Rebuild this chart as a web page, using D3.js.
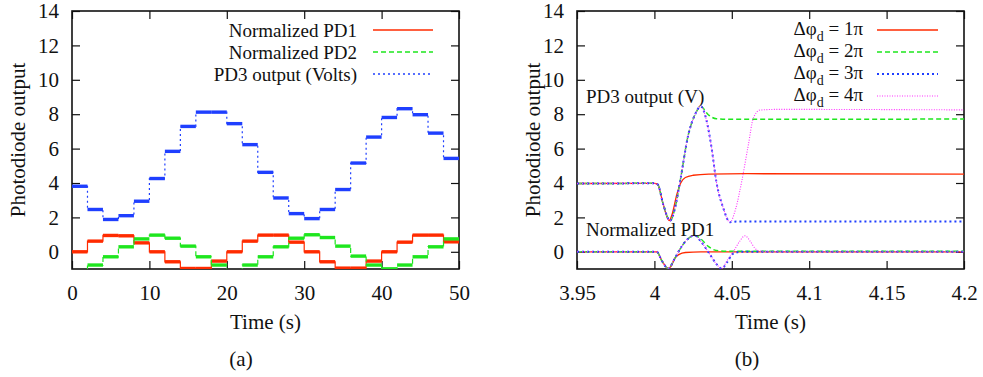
<!DOCTYPE html>
<html>
<head>
<meta charset="utf-8">
<script src="https://cdn.jsdelivr.net/npm/d3@7"></script>
<style>
  body { margin: 0; background: #fff; }
  svg text { font-family: "Liberation Serif", Tinos, "Times New Roman", Times, "Nimbus Roman", "DejaVu Serif", serif !important; fill: #111; }
</style>
</head>
<body>
<svg id="chart"></svg>
<script>
// --- Data: panel (a), step levels every 2 s ---
const stepTimes = [0, 2, 4, 6, 8, 10, 12, 14, 16, 18, 20, 22, 24, 26, 28, 30, 32, 34, 36, 38, 40, 42, 44, 46, 48, 50];
const pd1Levels = [0, 0.62, 0.95, 0.93, 0.52, 0, -0.58, -0.97, -0.97, -0.54, 0, 0.62, 0.97, 0.97, 0.56, 0, -0.58, -0.95, -0.95, -0.54, 0, 0.56, 0.97, 0.97, 0.58];
const pd2Levels = [-1.12, -0.77, -0.29, 0.29, 0.75, 0.97, 0.79, 0.33, -0.29, -0.77, -1.12, -0.77, -0.29, 0.29, 0.79, 0.99, 0.83, 0.33, -0.25, -0.77, -0.99, -0.77, -0.29, 0.29, 0.75];
const pd3Levels = [3.81, 2.46, 1.88, 2.1, 2.94, 4.26, 5.84, 7.29, 8.12, 8.12, 7.45, 6.23, 4.62, 3.13, 2.22, 1.93, 2.46, 3.62, 5.16, 6.67, 7.81, 8.32, 7.97, 6.9, 5.43];
const leftNames = ["Normalized PD1", "Normalized PD2", "PD3 output (Volts)"];

// --- Data: panel (b), transients [time, value] ---
const top1pi = [[3.95, 3.97], [4.0, 3.98], [4.0021, 3.92], [4.0058, 2.73], [4.0095, 1.82], [4.0115, 2.2], [4.0144, 3.3], [4.017, 4.0], [4.02, 4.32], [4.025, 4.45], [4.035, 4.52], [4.06, 4.54], [4.2, 4.52]];
const top2pi = [[3.95, 3.97], [4.0, 3.98], [4.0021, 3.92], [4.0058, 2.73], [4.0101, 1.8], [4.0133, 2.54], [4.0166, 4.09], [4.0219, 6.8], [4.0262, 7.97], [4.03, 8.45], [4.0348, 7.97], [4.04, 7.74], [4.05, 7.7], [4.2, 7.72]];
const top3pi = [[3.95, 3.97], [4.0, 3.98], [4.0021, 3.92], [4.0058, 2.73], [4.0101, 1.8], [4.0133, 2.54], [4.0166, 4.09], [4.0219, 6.8], [4.0262, 7.97], [4.03, 8.45], [4.0335, 7.7], [4.037, 6.0], [4.04, 4.09], [4.0445, 2.54], [4.0488, 1.72], [4.053, 1.76], [4.2, 1.76]];
const top4pi = [[3.95, 3.97], [4.0, 3.98], [4.0021, 3.92], [4.0058, 2.73], [4.0101, 1.8], [4.0133, 2.54], [4.0166, 4.09], [4.0219, 6.8], [4.0262, 7.97], [4.03, 8.45], [4.0335, 7.7], [4.037, 6.0], [4.04, 4.09], [4.0445, 2.54], [4.0488, 1.72], [4.0525, 2.5], [4.0564, 4.09], [4.0607, 6.22], [4.0639, 7.77], [4.0682, 8.24], [4.08, 8.28], [4.2, 8.25]];
const bot1pi = [[3.95, 0], [4.0015, 0], [4.005, -0.55], [4.009, -0.98], [4.011, -0.8], [4.013, -0.4], [4.016, -0.15], [4.02, -0.04], [4.03, 0], [4.2, 0]];
const bot2pi = [[3.95, 0], [4.0015, 0], [4.005, -0.55], [4.009, -0.98], [4.0125, -0.5], [4.0155, 0], [4.02, 0.6], [4.026, 0.95], [4.03, 0.75], [4.035, 0.3], [4.04, 0.08], [4.05, 0.03], [4.2, 0.03]];
const bot3pi = [[3.95, 0], [4.0015, 0], [4.005, -0.55], [4.009, -0.98], [4.0125, -0.5], [4.0155, 0], [4.02, 0.6], [4.026, 0.95], [4.03, 0.6], [4.036, -0.17], [4.04, -0.7], [4.0435, -0.97], [4.047, -0.6], [4.051, -0.1], [4.056, 0], [4.2, 0]];
const bot4pi = [[3.95, 0], [4.0015, 0], [4.005, -0.55], [4.009, -0.98], [4.0125, -0.5], [4.0155, 0], [4.02, 0.6], [4.026, 0.95], [4.03, 0.6], [4.036, -0.17], [4.04, -0.7], [4.0435, -0.97], [4.047, -0.5], [4.051, 0], [4.055, 0.6], [4.0585, 0.93], [4.062, 0.6], [4.065, 0.2], [4.068, 0.05], [4.075, 0], [4.2, 0]];
const rightNames = ["1π", "2π", "3π", "4π"];

// --- Ticks ---
const yTicks = [0, 2, 4, 6, 8, 10, 12, 14];
const leftXTicks = [0, 10, 20, 30, 40, 50];
const rightXTicks = [3.95, 4, 4.05, 4.1, 4.15, 4.2];

// --- Styles ---
const styles = [
    { color: "#ff2b00", dash: null, width: 1.3 },
    { color: "#1ee61e", dash: "5,3", width: 1.5 },
    { color: "#1f3fff", dash: "2,3", width: 2 },
    { color: "#ff30ff", dash: "1,1.5", width: 1.1 }
];

const serif = '"Liberation Serif", Tinos, "Times New Roman", Times, "Nimbus Roman", "DejaVu Serif", serif';

const width = 983, height = 377;
const marginTop = 11, plotBottom = 269;

const svg = d3.select("#chart")
    .attr("width", width)
    .attr("height", height)
    .attr("viewBox", [0, 0, width, height])
    .attr("font-family", serif);

const y = d3.scaleLinear().domain([-1, 14]).range([plotBottom, marginTop]);

function drawFrame(x, xTicks, fmt, yLabelX, id) {
    const [x0, x1] = x.range();
    svg.append("defs").append("clipPath").attr("id", id)
      .append("rect").attr("x", x0).attr("y", marginTop)
      .attr("width", x1 - x0).attr("height", plotBottom - marginTop);

    svg.append("g").attr("transform", `translate(${x0},0)`)
        .call(d3.axisLeft(y).tickValues(yTicks).tickSizeInner(-8).tickSizeOuter(0).tickPadding(13))
        .call(g => g.select(".domain").remove());
    svg.append("g").attr("transform", `translate(${x1},0)`)
        .call(d3.axisRight(y).tickValues(yTicks).tickSizeInner(-8).tickSizeOuter(0).tickFormat(""))
        .call(g => g.select(".domain").remove());
    svg.append("g").attr("transform", `translate(0,${plotBottom})`)
        .call(d3.axisBottom(x).tickValues(xTicks).tickSizeInner(-8).tickSizeOuter(0).tickPadding(16).tickFormat(fmt))
        .call(g => g.select(".domain").remove());
    svg.append("g").attr("transform", `translate(0,${marginTop})`)
        .call(d3.axisTop(x).tickValues(xTicks).tickSizeInner(-8).tickSizeOuter(0).tickFormat(""))
        .call(g => g.select(".domain").remove());

    svg.selectAll("g").attr("font-family", serif);
    svg.selectAll(".tick line").attr("stroke", "#111").attr("stroke-width", 1.2);
    svg.selectAll(".tick text").style("font-size", "21px").attr("fill", "#111");

    svg.append("rect")
        .attr("x", x0).attr("y", marginTop)
        .attr("width", x1 - x0).attr("height", plotBottom - marginTop)
        .attr("fill", "none").attr("stroke", "#111").attr("stroke-width", 1.6);

    svg.append("text")
        .attr("transform", `translate(${yLabelX},${(marginTop + plotBottom) / 2}) rotate(-90)`)
        .attr("text-anchor", "middle")
        .style("font-size", "21px")
        .text("Photodiode output");

    svg.append("text")
        .attr("x", (x0 + x1) / 2).attr("y", 329)
        .attr("text-anchor", "middle")
        .style("font-size", "21px")
        .text("Time (s)");
}

// ===== Panel (a) =====
const xA = d3.scaleLinear().domain([0, 50]).range([72, 459]);
drawFrame(xA, leftXTicks, d => d, 25, "clipA");

const stepLine = d3.line().x(d => xA(d[0])).y(d => y(d[1])).curve(d3.curveStepAfter);
const plotA = svg.append("g").attr("clip-path", "url(#clipA)");

[pd1Levels, pd2Levels, pd3Levels].forEach((levels, k) => {
    const st = styles[k];
    const pts = levels.map((v, i) => [stepTimes[i], v]);
    pts.push([stepTimes[stepTimes.length - 1], levels[levels.length - 1]]);
    // thin connecting step line
    plotA.append("path")
        .attr("d", stepLine(pts))
        .attr("fill", "none")
        .attr("stroke", st.color)
        .attr("stroke-width", 1.2)
        .attr("stroke-dasharray", st.dash);
    // noisy plateaus drawn as thick bands
    plotA.append("g").selectAll("line")
      .data(levels)
      .join("line")
        .attr("x1", (v, i) => xA(stepTimes[i]))
        .attr("x2", (v, i) => xA(stepTimes[i + 1]))
        .attr("y1", v => y(v))
        .attr("y2", v => y(v))
        .attr("stroke", st.color)
        .attr("stroke-width", 3.4);
});

// legend (a)
const legA = svg.append("g");
leftNames.forEach((name, k) => {
    const ly = 30 + k * 22;
    legA.append("text").attr("x", 357).attr("y", ly + 7)
        .attr("text-anchor", "end").style("font-size", "19px").text(name);
    legA.append("line").attr("x1", 373).attr("x2", 433).attr("y1", ly).attr("y2", ly)
        .attr("stroke", styles[k].color).attr("stroke-width", 1.4)
        .attr("stroke-dasharray", styles[k].dash);
});

svg.append("text").attr("x", 241).attr("y", 366)
    .attr("text-anchor", "middle").style("font-size", "21px").text("(a)");

// ===== Panel (b) =====
const xB = d3.scaleLinear().domain([3.95, 4.2]).range([577, 964]);
drawFrame(xB, rightXTicks, d => String(+d.toFixed(2)), 540, "clipB");

const smoothLine = d3.line().x(d => xB(d[0])).y(d => y(d[1])).curve(d3.curveMonotoneX);
const plotB = svg.append("g").attr("clip-path", "url(#clipB)");

const topSeries = [top1pi, top2pi, top3pi, top4pi];
const botSeries = [bot1pi, bot2pi, bot3pi, bot4pi];
[0, 1, 2, 3].forEach(k => {
    const st = styles[k];
    [topSeries[k], botSeries[k]].forEach(series => {
        plotB.append("path")
            .attr("d", smoothLine(series))
            .attr("fill", "none")
            .attr("stroke", st.color)
            .attr("stroke-width", st.width)
            .attr("stroke-dasharray", st.dash);
    });
});

svg.append("text").attr("x", 586).attr("y", 103)
    .style("font-size", "19px").text("PD3 output (V)");
svg.append("text").attr("x", 586).attr("y", 236)
    .style("font-size", "19px").text("Normalized PD1");

// legend (b)
const legB = svg.append("g");
rightNames.forEach((name, k) => {
    const ly = 30 + k * 22;
    const t = legB.append("text").attr("x", 863).attr("y", ly + 5)
        .attr("text-anchor", "end").style("font-size", "19px");
    t.append("tspan").text("Δφ");
    t.append("tspan").attr("dy", 6).style("font-size", "14px").text("d");
    t.append("tspan").attr("dy", -6).text(" = " + name);
    legB.append("line").attr("x1", 877).attr("x2", 938).attr("y1", ly).attr("y2", ly)
        .attr("stroke", styles[k].color).attr("stroke-width", styles[k].width)
        .attr("stroke-dasharray", styles[k].dash);
});

svg.append("text").attr("x", 747).attr("y", 366)
    .attr("text-anchor", "middle").style("font-size", "21px").text("(b)");
</script>
</body>
</html>
